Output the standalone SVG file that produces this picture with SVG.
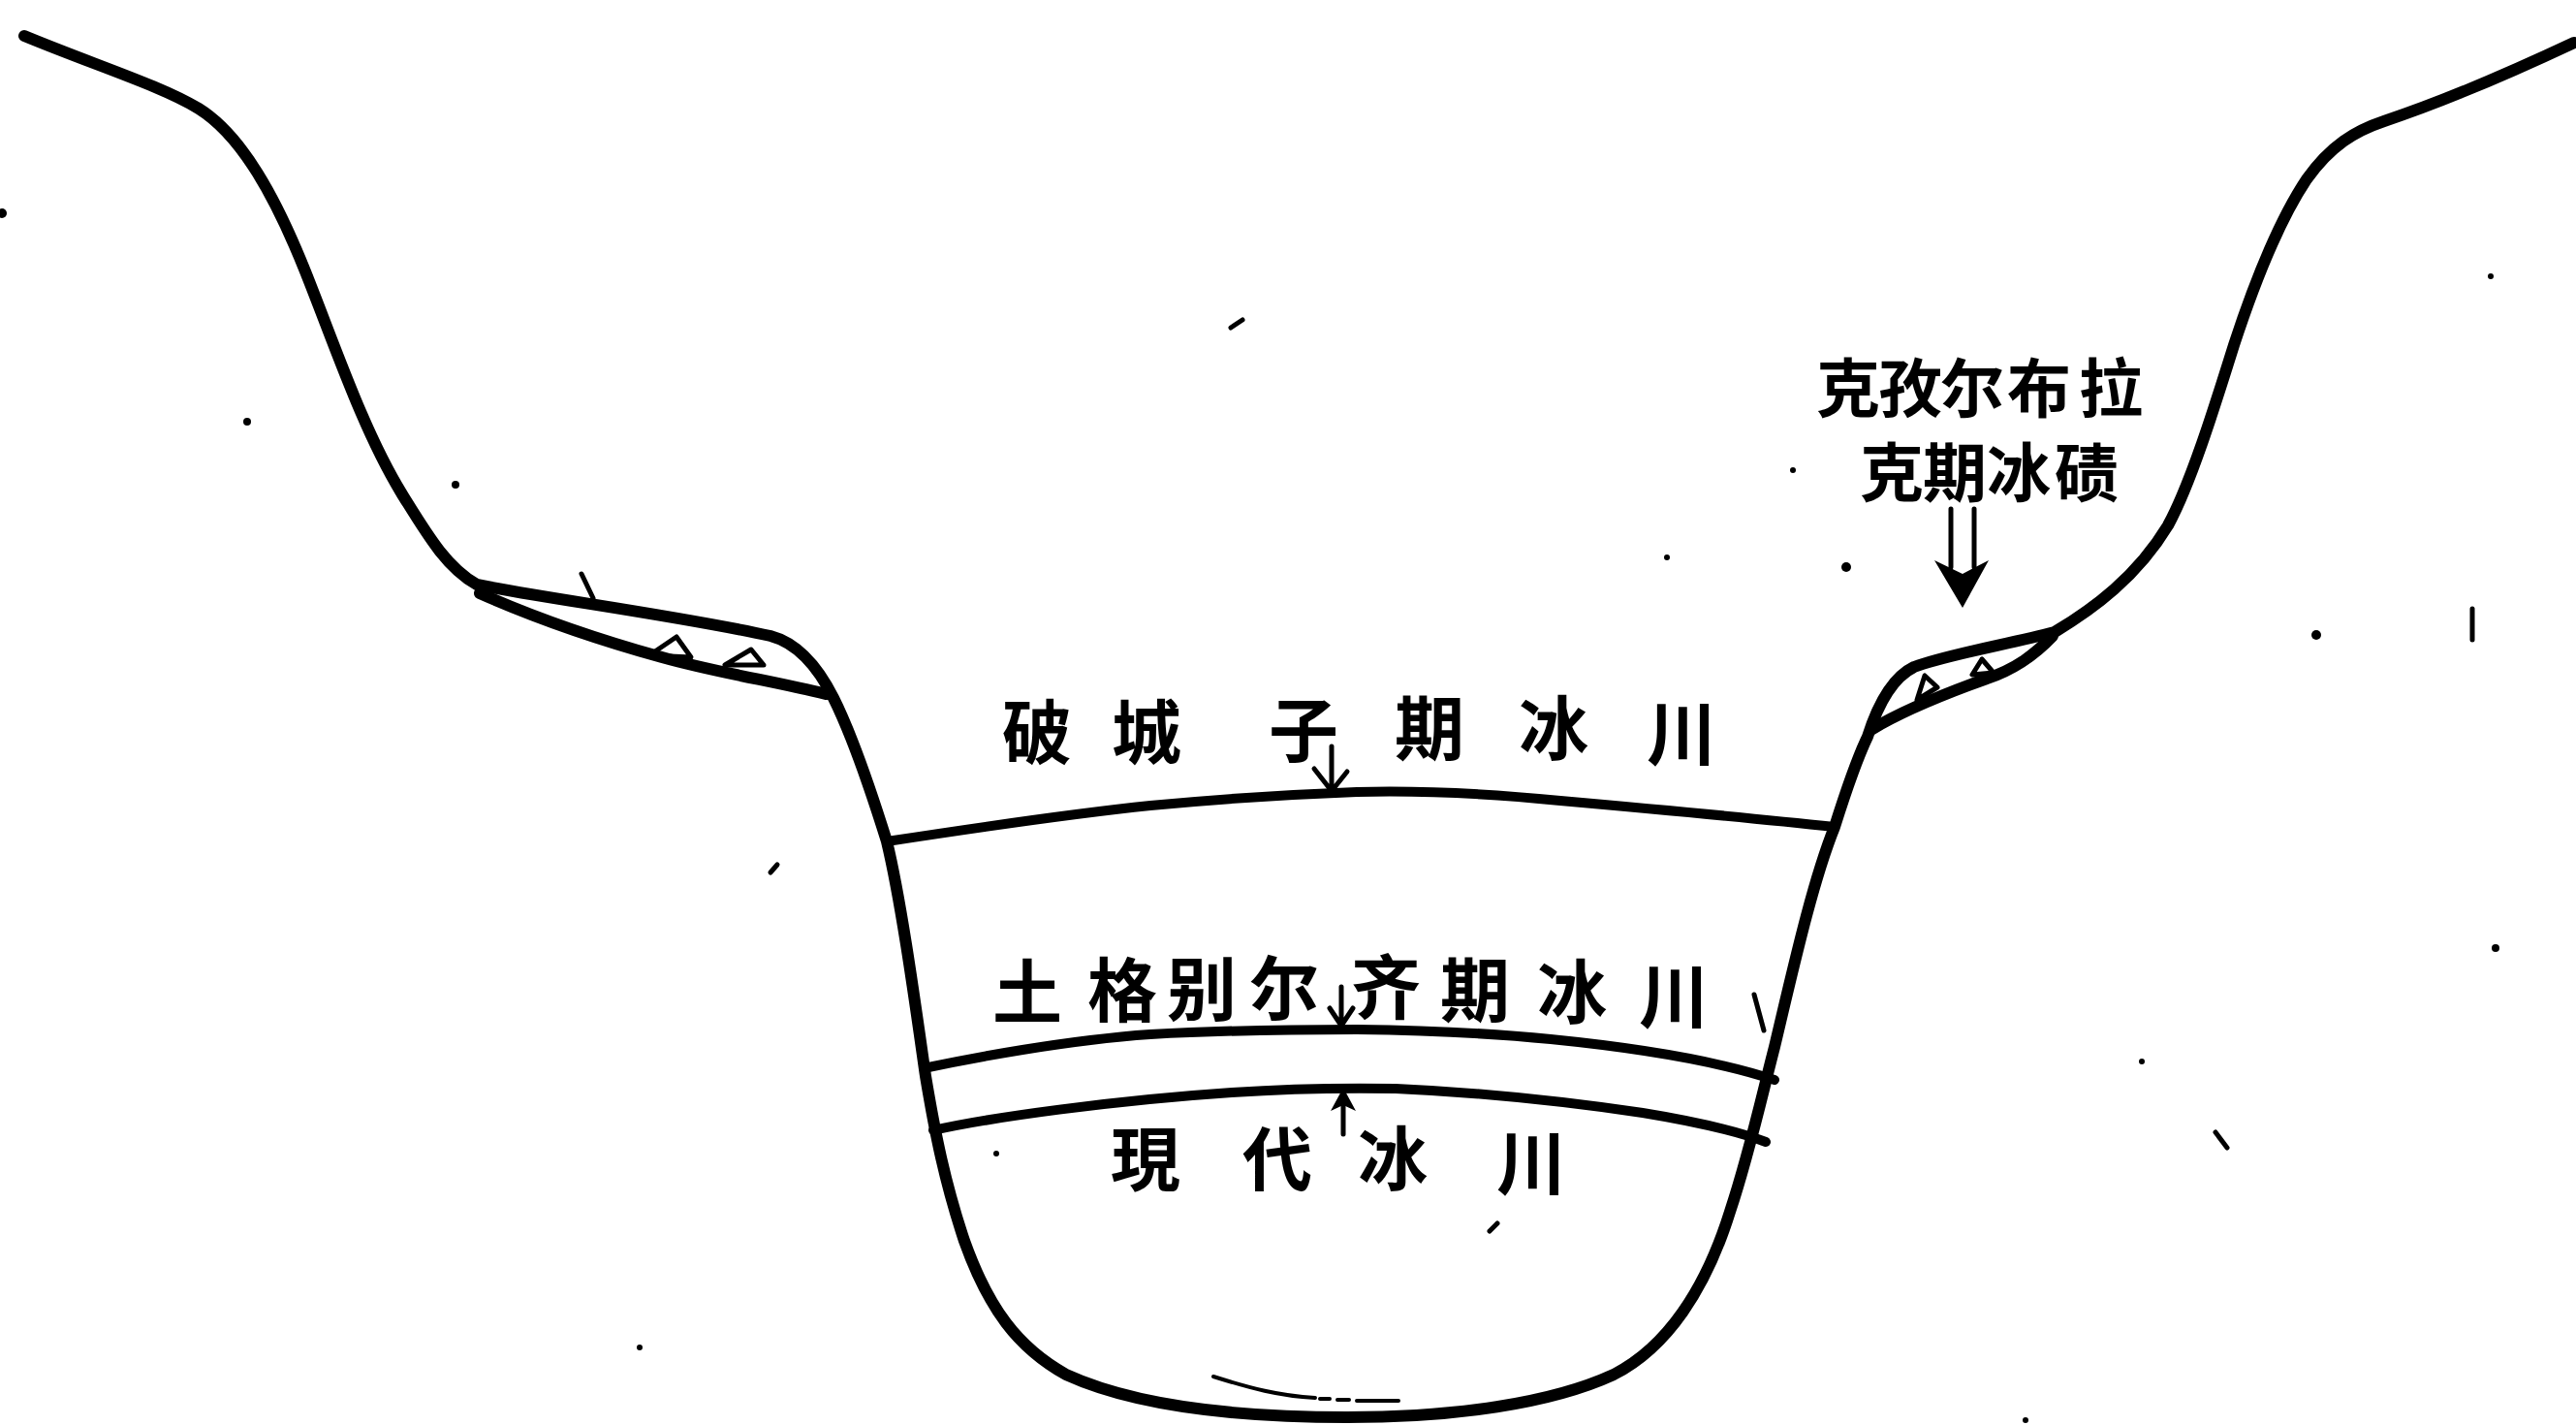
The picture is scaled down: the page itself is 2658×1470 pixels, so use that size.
<svg xmlns="http://www.w3.org/2000/svg" width="2658" height="1470" viewBox="0 0 2658 1470">
  <style>
    .ink { fill: none; stroke: #000; stroke-width: 12; stroke-linecap: round; stroke-linejoin: round; }
    .layer { fill: none; stroke: #000; stroke-width: 10; stroke-linecap: round; }
    .thin { fill: none; stroke: #000; stroke-width: 5; stroke-linecap: round; stroke-linejoin: round; }
    .hair { fill: none; stroke: #000; stroke-width: 4; stroke-linecap: round; }
    .cj { font-family: "Noto Sans CJK SC", "Noto Sans CJK JP", sans-serif; font-size: 72px; font-weight: 700; fill: #000; text-anchor: middle; }
    .cj-s { font-family: "Noto Sans CJK SC", "Noto Sans CJK JP", sans-serif; font-size: 66px; font-weight: 700; fill: #000; text-anchor: middle; }
    .speck { fill: #000; }
  </style>
  <rect width="2658" height="1470" fill="#fff"/>

  <!-- valley cross-section: outer slopes, shoulders and trough -->
  <g id="valley-profile">
    <path class="ink" d="M25,37 C100,68 165,88 205,112 C250,140 285,205 315,280 C345,355 375,445 415,510 C440,550 460,585 492,603 C560,617 700,635 795,656 C825,664 845,690 860,720 C880,760 900,820 915,868 C930,930 945,1040 955,1110 C965,1170 975,1220 995,1280 C1020,1350 1050,1390 1100,1418 C1170,1450 1270,1462 1390,1462 C1500,1462 1600,1448 1665,1418 C1720,1390 1760,1330 1785,1250 C1805,1190 1818,1130 1831,1080 C1850,1000 1870,910 1893,853 C1905,815 1915,785 1927,760 C1935,735 1950,700 1975,688 C2010,675 2070,665 2120,652 C2160,628 2205,595 2237,542 C2260,500 2285,420 2305,356 C2325,295 2350,230 2380,185 C2405,150 2430,135 2460,125 C2520,105 2590,75 2656,44"/>
    <!-- faint scour mark on the trough floor -->
    <path class="hair" d="M1252,1420 C1290,1432 1320,1440 1357,1442"/>
    <path class="hair" d="M1362,1443 L1372,1443 M1380,1444 L1392,1444 M1400,1445 L1443,1445"/>
  </g>

  <!-- left shoulder moraine lens -->
  <g id="moraine-left">
    <path class="ink" d="M495,612 C540,632 600,655 683,678 C740,694 800,703 852,716"/>
    <path class="thin" d="M698,657 L670,676 L713,678 Z"/>
    <path class="thin" d="M775,670 L748,686 L788,686 Z"/>
  </g>

  <!-- right shoulder moraine lens -->
  <g id="moraine-right">
    <path class="ink" d="M1932,752 C1960,735 2000,718 2050,700 C2080,690 2100,675 2118,656"/>
    <path class="thin" d="M1986,697 L1978,722 L1999,709 Z"/>
    <path class="thin" d="M2045,680 L2035,696 L2057,694 Z"/>
  </g>

  <!-- glacier stage boundaries inside the trough -->
  <g id="stage-boundaries">
    <path class="layer" d="M915,868 C1000,855 1100,840 1187,831 C1260,824 1320,820 1400,817 C1480,815 1550,820 1610,826 C1700,834 1800,843 1893,853"/>
    <path class="layer" d="M953,1102 C1000,1092 1100,1073 1187,1067 C1260,1063 1320,1062 1400,1062 C1480,1063 1540,1066 1600,1072 C1700,1082 1780,1097 1831,1114"/>
    <path class="layer" d="M963,1166 C1020,1153 1150,1135 1271,1127 C1330,1123 1380,1122 1440,1123 C1530,1127 1620,1137 1695,1148 C1750,1157 1790,1166 1822,1178"/>
  </g>

  <!-- pointer arrows -->
  <g id="arrows">
    <path class="thin" d="M1374,770 L1374,818 M1356,793 L1374,816 L1390,796"/>
    <path class="thin" d="M1384,1018 L1384,1058 M1372,1040 L1384,1058 L1396,1040"/>
    <path class="thin" d="M1386,1170 L1386,1130"/>
    <path class="speck" d="M1386,1122 L1373,1146 L1386,1140 L1399,1146 Z"/>
    <path class="thin" d="M2013,525 L2013,585 M2037,525 L2037,585"/>
    <path class="speck" d="M1996,578 L2025,627 L2052,578 L2025,592 Z"/>
  </g>

  <!-- stage labels -->
  <g id="label-pochengzi">
    <text class="cj" x="1070" y="782">破</text>
    <text class="cj" x="1183" y="782">城</text>
    <text class="cj" x="1345" y="780">子</text>
    <text class="cj" x="1475" y="778">期</text>
    <text class="cj" x="1603" y="778">冰</text>
    <text class="cj" x="1735" y="783">川</text>
  </g>
  <g id="label-tugebieerqi">
    <text class="cj" x="1060" y="1050">土</text>
    <text class="cj" x="1158" y="1048">格</text>
    <text class="cj" x="1240" y="1047">别</text>
    <text class="cj" x="1325" y="1046">尔</text>
    <text class="cj" x="1430" y="1045">齐</text>
    <text class="cj" x="1522" y="1048">期</text>
    <text class="cj" x="1622" y="1050">冰</text>
    <text class="cj" x="1727" y="1054">川</text>
  </g>
  <g id="label-modern">
    <text class="cj" x="1182" y="1222">現</text>
    <text class="cj" x="1318" y="1222">代</text>
    <text class="cj" x="1437" y="1222">冰</text>
    <text class="cj" x="1580" y="1226">川</text>
  </g>
  <g id="label-kezierbulake">
    <text class="cj-s" x="1907" y="425">克</text>
    <text class="cj-s" x="1971" y="425">孜</text>
    <text class="cj-s" x="2035" y="425">尔</text>
    <text class="cj-s" x="2104" y="425">布</text>
    <text class="cj-s" x="2178" y="425">拉</text>
    <text class="cj-s" x="1952" y="512">克</text>
    <text class="cj-s" x="2017" y="512">期</text>
    <text class="cj-s" x="2083" y="512">冰</text>
    <text class="cj-s" x="2153" y="512">碛</text>
  </g>

  <!-- paper specks and stray pen marks -->
  <g id="specks" class="speck">
    <path class="thin" d="M600,592 L612,617"/>
    <path class="thin" d="M1810,1026 L1820,1063"/>
    <path class="thin" d="M2286,1168 L2298,1184"/>
    <path class="thin" d="M2551,628 L2551,660"/>
    <path class="thin" d="M795,900 L802,892"/>
    <path class="thin" d="M1537,1270 L1545,1262"/>
    <path class="thin" d="M1270,338 L1282,330"/>
    <circle cx="2" cy="220" r="5"/>
    <circle cx="255" cy="435" r="4"/>
    <circle cx="470" cy="500" r="4"/>
    <circle cx="1905" cy="585" r="5"/>
    <circle cx="2390" cy="655" r="5"/>
    <circle cx="2575" cy="978" r="4"/>
    <circle cx="1720" cy="575" r="3"/>
    <circle cx="1850" cy="485" r="3"/>
    <circle cx="2210" cy="1095" r="3"/>
    <circle cx="2570" cy="285" r="3"/>
    <circle cx="2090" cy="1465" r="3"/>
    <circle cx="1028" cy="1190" r="3"/>
    <circle cx="660" cy="1390" r="3"/>
  </g>
</svg>
